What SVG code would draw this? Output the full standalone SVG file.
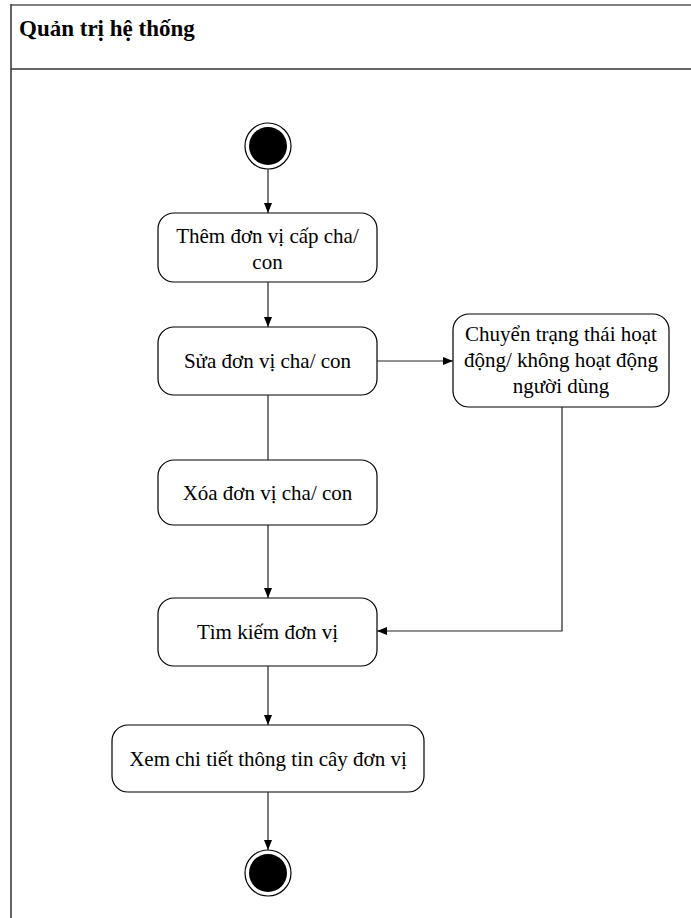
<svg xmlns="http://www.w3.org/2000/svg" width="691" height="918" viewBox="0 0 691 918">
<defs>
<marker id="arr" markerWidth="10" markerHeight="8" refX="10" refY="4" orient="auto" markerUnits="userSpaceOnUse">
<path d="M0,0 L10,4 L0,8 Z" fill="#000"/>
</marker>
<style>
.box{fill:#fff;stroke:#000;stroke-width:1.2}
.t{font-family:"Liberation Serif","Times New Roman",serif;font-size:21px;fill:#000;text-anchor:middle}
.title{font-family:"Liberation Serif","Times New Roman",serif;font-size:23px;font-weight:bold;fill:#000}
.c{fill:none;stroke:#222;stroke-width:1.2}
</style>
</defs>
<rect width="691" height="918" fill="#fff"/>
<g id="frame">
<line x1="11" y1="5" x2="691" y2="5" stroke="#808080" stroke-width="2"/>
<line x1="11" y1="4" x2="11" y2="918" stroke="#333" stroke-width="1.5"/>
<line x1="11" y1="69" x2="691" y2="69" stroke="#333" stroke-width="1.5"/>
<text class="title" x="19" y="36">Quản trị hệ thống</text>
</g>
<g id="start">
<circle cx="268" cy="146" r="23" fill="#fff" stroke="#000" stroke-width="1.2"/>
<circle cx="268" cy="146" r="19" fill="#000"/>
</g>
<g id="n1">
<rect class="box" x="158" y="213" width="219" height="69" rx="16"/>
<text class="t" x="267.5" y="243">Thêm đơn vị cấp cha/</text>
<text class="t" x="267.5" y="269">con</text>
</g>
<g id="n2">
<rect class="box" x="158" y="327" width="219" height="68" rx="16"/>
<text class="t" x="267.5" y="368">Sửa đơn vị cha/ con</text>
</g>
<g id="n3">
<rect class="box" x="453" y="314" width="216" height="93" rx="16"/>
<text class="t" x="561" y="341">Chuyển trạng thái hoạt</text>
<text class="t" x="561" y="367">động/ không hoạt động</text>
<text class="t" x="561" y="393">người dùng</text>
</g>
<g id="n4">
<rect class="box" x="158" y="460" width="219" height="65" rx="16"/>
<text class="t" x="267.5" y="500">Xóa đơn vị cha/ con</text>
</g>
<g id="n5">
<rect class="box" x="158" y="598" width="219" height="68" rx="16"/>
<text class="t" x="267.5" y="639">Tìm kiếm đơn vị</text>
</g>
<g id="n6">
<rect class="box" x="112" y="725" width="312" height="67" rx="16"/>
<text class="t" x="268" y="766">Xem chi tiết thông tin cây đơn vị</text>
</g>
<g id="end">
<circle cx="268" cy="873" r="23" fill="#fff" stroke="#000" stroke-width="1.2"/>
<circle cx="268" cy="873" r="19" fill="#000"/>
</g>
<g id="connectors">
<line class="c" x1="268" y1="169" x2="268" y2="213" marker-end="url(#arr)"/>
<line class="c" x1="268" y1="282" x2="268" y2="327" marker-end="url(#arr)"/>
<line class="c" x1="377" y1="361" x2="453" y2="361" marker-end="url(#arr)"/>
<line class="c" x1="268" y1="395" x2="268" y2="460"/>
<polyline class="c" points="562,407 562,631 377,631" marker-end="url(#arr)"/>
<line class="c" x1="268" y1="525" x2="268" y2="598" marker-end="url(#arr)"/>
<line class="c" x1="268" y1="666" x2="268" y2="725" marker-end="url(#arr)"/>
<line class="c" x1="268" y1="792" x2="268" y2="850" marker-end="url(#arr)"/>
</g>
</svg>
